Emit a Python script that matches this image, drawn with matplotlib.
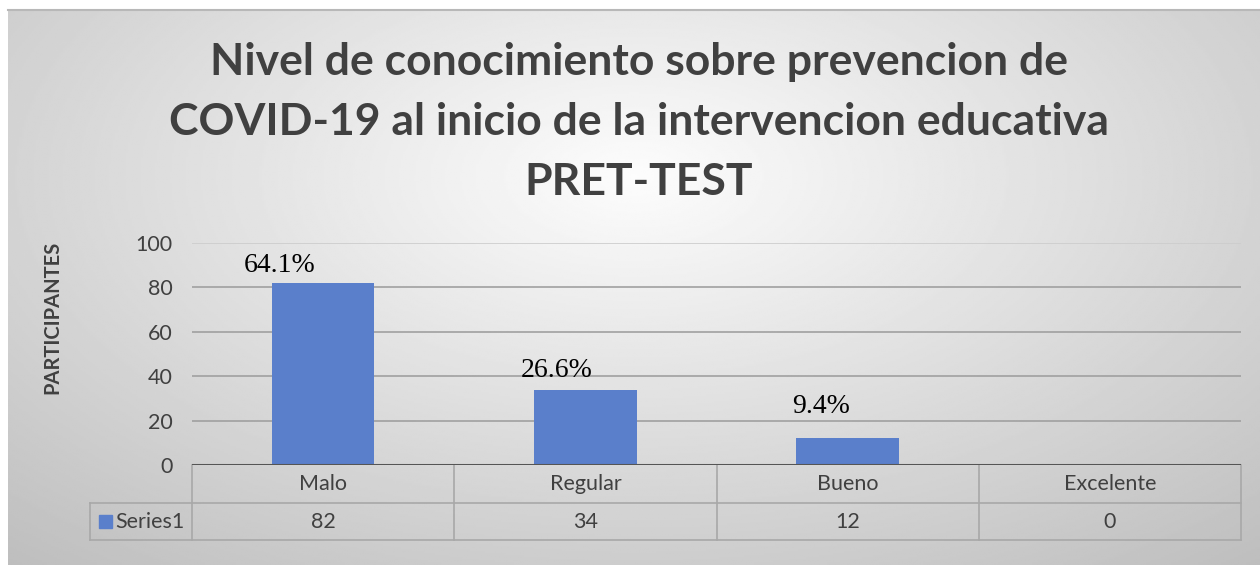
import numpy as np
import matplotlib
matplotlib.use("Agg")
import matplotlib.pyplot as plt
import matplotlib.transforms as mtransforms
from matplotlib.patches import Rectangle

# data
categories = ["Malo", "Regular", "Bueno", "Excelente"]
participantes = [82, 34, 12, 0]
porcentajes = ["64.1%", "26.6%", "9.4%", ""]
series_name = "Series1"
y_ticks = [0, 20, 40, 60, 80, 100]

title = ("Nivel de conocimiento sobre prevencion de\n"
         "COVID-19 al inicio de la intervencion educativa\n"
         "PRET-TEST")

plt.rcParams['font.family'] = ['Lato', 'DejaVu Sans']
txt_col = '#404040'
bar_col = '#5a7fcb'

fig = plt.figure(figsize=(12.6, 5.65), dpi=100)
fig.patch.set_facecolor('white')

# background, radial gray gradient like the excel chart area
bg = fig.add_axes([8/1260, 0, 1 - 8/1260, 1 - 10/565])
yy, xx = np.mgrid[0:1:300j, 0:1:600j]
r = np.sqrt(((xx - 0.5) / 0.75) ** 2 + ((yy - 0.3) / 0.9) ** 2)
shade = np.clip(0.99 - 0.24 * r, 0.74, 1.0)
bg.imshow(shade, cmap='gray', vmin=0, vmax=1, aspect='auto', extent=[0, 1, 0, 1])
bg.axis('off')
bg.plot([0, 1], [1, 1], color='#b8b8b8', lw=1.5, transform=bg.transAxes, clip_on=False)

ax = fig.add_axes([192/1260, 100/565, 1049/1260, 222/565])
ax.set_facecolor('none')
x = np.arange(len(categories))
bars = ax.bar(x, participantes, width=0.39, color=bar_col, zorder=3)
ax.set_xlim(-0.5, len(categories) - 0.5)
ax.set_ylim(0, 100)
ax.set_yticks(y_ticks)
ax.tick_params(axis='y', length=0, labelsize=15.5, labelcolor=txt_col, pad=14)
ax.set_xticks([])
for s in ax.spines.values():
    s.set_visible(False)
for t in y_ticks[1:]:
    ax.axhline(t, color='#a0a0a0' if t < 100 else '#cccccc', lw=1.2, zorder=1)
ax.axhline(0, color='#555555', lw=2.2, zorder=4)

# percentage labels (placed by hand in the original)
offsets = [(-31, 8), (-21, 9), (-19, 18), (0, 0)]
for b, lab, off in zip(bars, porcentajes, offsets):
    if lab:
        ax.annotate(lab, (b.get_x() + b.get_width() / 2, b.get_height()),
                    xytext=off, textcoords='offset points', ha='center', va='baseline',
                    fontsize=20, family='Liberation Serif', color='black', zorder=5)

ax.set_ylabel("PARTICIPANTES", fontsize=14.5, fontweight='bold', color=txt_col)
ax.yaxis.set_label_coords(-0.124, 0.667)

# data table under the axis
trans = mtransforms.blended_transform_factory(ax.transData, ax.transAxes)
row1 = -38 / 222
row2 = -75 / 222
left_leg = -0.5 - 102 / 262.25
line_kw = dict(color='#a8a8a8', lw=1.2, transform=trans, clip_on=False)
n = len(categories)
ax.plot([left_leg, n - 0.5], [row1, row1], **line_kw)
ax.plot([left_leg, n - 0.5], [row2, row2], **line_kw)
for b in np.arange(-0.5, n, 1.0):
    ax.plot([b, b], [0, row2], **line_kw)
ax.plot([left_leg, left_leg], [row1, row2], **line_kw)
for i, (c, v) in enumerate(zip(categories, participantes)):
    ax.text(i, row1 / 2, c, transform=trans, ha='center', va='center',
            fontsize=15.5, color=txt_col)
    ax.text(i, (row1 + row2) / 2, str(v), transform=trans, ha='center', va='center',
            fontsize=15.5, color=txt_col)
ax.add_patch(Rectangle((left_leg + 0.035, (row1 + row2) / 2 - 0.028), 0.05, 0.056,
                       color=bar_col, transform=trans, clip_on=False))
ax.text(left_leg + 0.095, (row1 + row2) / 2, series_name, transform=trans, ha='left',
        va='center', fontsize=15.5, color=txt_col)

fig.text(0.507, 0.784, title, ha='center', va='center', fontsize=32,
         fontweight='bold', color=txt_col, linespacing=1.6)

fig.savefig('out.png', dpi=100)
